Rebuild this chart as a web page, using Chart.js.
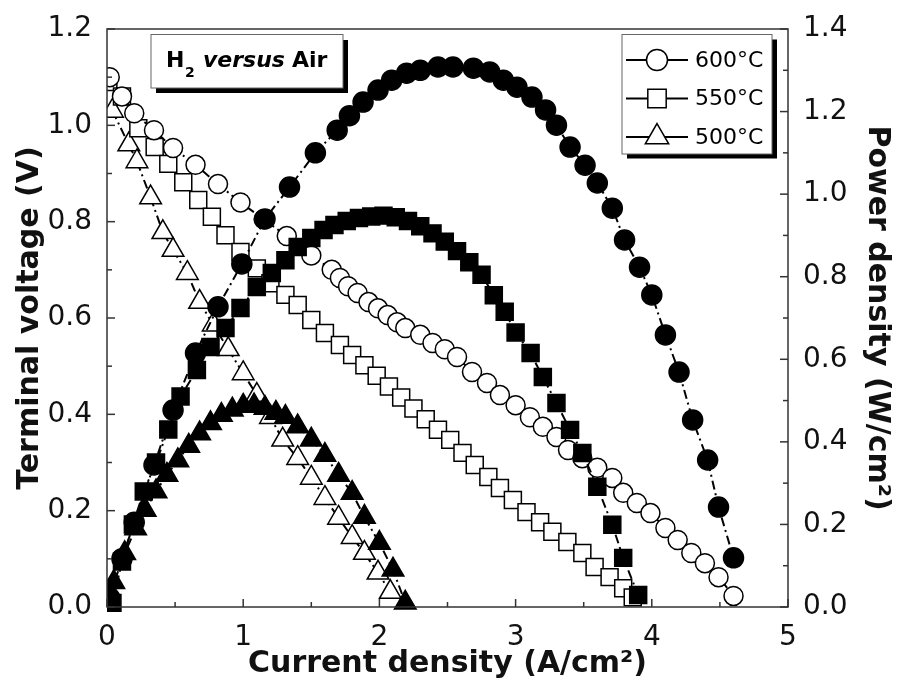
<!DOCTYPE html>
<html>
<head>
<meta charset="utf-8">
<style>
html,body{margin:0;padding:0;background:#fff;}
#wrap{width:904px;height:686px;position:relative;}
</style>
<script src="https://cdn.jsdelivr.net/npm/chart.js@4.4.0/dist/chart.umd.min.js"></script>
</head>
<body>
<div id="wrap"><canvas id="c" width="904" height="686"></canvas></div>
<script>
// ---------- data ----------
const xTicks = [0, 1, 2, 3, 4, 5];
const xMinorTicks = [0.5, 1.5, 2.5, 3.5, 4.5];
const vTicks = [0.0, 0.2, 0.4, 0.6, 0.8, 1.0, 1.2];
const vMinorTicks = [0.1, 0.3, 0.5, 0.7, 0.9, 1.1];
const pTicks = [0.0, 0.2, 0.4, 0.6, 0.8, 1.0, 1.2, 1.4];
const pMinorTicks = [0.1, 0.3, 0.5, 0.7, 0.9, 1.1, 1.3];

const seriesLabels = ['600°C', '550°C', '500°C'];

// 600 °C terminal voltage (open circles)
const j600V = [0.02,0.11,0.20,0.345,0.485,0.65,0.815,0.98,1.15,1.32,1.50,1.65,1.71,1.77,1.84,1.92,1.99,2.06,2.13,2.19,2.30,2.39,2.48,2.57,2.68,2.79,2.885,3.00,3.105,3.20,3.30,3.385,3.49,3.60,3.71,3.79,3.89,3.99,4.10,4.19,4.29,4.39,4.49,4.60];
const v600  = [1.10,1.06,1.025,0.99,0.953,0.918,0.878,0.84,0.805,0.77,0.73,0.70,0.683,0.666,0.652,0.633,0.62,0.606,0.591,0.579,0.565,0.548,0.535,0.519,0.488,0.465,0.44,0.419,0.394,0.374,0.353,0.326,0.309,0.289,0.268,0.237,0.216,0.195,0.164,0.139,0.112,0.091,0.062,0.023];
// 600 °C power density (filled circles)
const j600P = [0.02,0.11,0.20,0.345,0.485,0.65,0.815,0.99,1.16,1.34,1.53,1.69,1.78,1.88,1.99,2.09,2.20,2.30,2.43,2.54,2.69,2.81,2.91,3.01,3.12,3.22,3.30,3.40,3.51,3.60,3.71,3.80,3.91,4.00,4.10,4.20,4.30,4.41,4.49,4.60];
const p600  = [0.022,0.117,0.205,0.344,0.477,0.615,0.727,0.831,0.94,1.017,1.10,1.155,1.19,1.223,1.252,1.276,1.293,1.30,1.308,1.308,1.305,1.296,1.276,1.259,1.235,1.204,1.167,1.114,1.07,1.027,0.966,0.889,0.823,0.756,0.659,0.569,0.453,0.356,0.242,0.119];

// 550 °C terminal voltage (open squares)
const j550V = [0.01,0.11,0.23,0.35,0.45,0.56,0.67,0.77,0.87,0.98,1.10,1.20,1.31,1.40,1.50,1.60,1.71,1.80,1.89,1.98,2.07,2.16,2.25,2.34,2.43,2.52,2.61,2.70,2.80,2.885,2.98,3.08,3.18,3.27,3.38,3.49,3.58,3.69,3.79,3.86];
const v550  = [1.09,1.06,0.994,0.955,0.92,0.882,0.845,0.81,0.772,0.737,0.703,0.672,0.648,0.627,0.596,0.569,0.544,0.523,0.502,0.48,0.458,0.435,0.412,0.39,0.368,0.347,0.32,0.295,0.27,0.247,0.222,0.197,0.176,0.156,0.135,0.112,0.083,0.062,0.039,0.02];
// 550 °C power density (filled squares)
const j550P = [0.04,0.11,0.19,0.27,0.36,0.45,0.54,0.66,0.76,0.87,0.98,1.10,1.21,1.31,1.40,1.50,1.59,1.67,1.76,1.85,1.94,2.03,2.12,2.21,2.30,2.39,2.48,2.57,2.66,2.75,2.84,2.92,3.00,3.11,3.20,3.30,3.40,3.49,3.60,3.71,3.79,3.90];
const p550  = [0.01,0.11,0.20,0.28,0.35,0.43,0.51,0.574,0.63,0.676,0.724,0.775,0.809,0.84,0.872,0.894,0.913,0.925,0.935,0.942,0.946,0.948,0.944,0.935,0.922,0.905,0.885,0.862,0.835,0.805,0.755,0.715,0.665,0.615,0.557,0.494,0.429,0.373,0.291,0.199,0.119,0.029];

// 500 °C terminal voltage (open triangles)
const j500V = [0.04,0.16,0.22,0.32,0.41,0.485,0.59,0.68,0.78,0.89,1.00,1.10,1.20,1.29,1.40,1.50,1.60,1.70,1.80,1.89,1.99,2.08];
const v500  = [1.03,0.96,0.925,0.85,0.778,0.741,0.693,0.633,0.586,0.535,0.485,0.44,0.394,0.347,0.309,0.268,0.226,0.185,0.145,0.112,0.071,0.031];
// 500 °C power density (filled triangles)
const j500P = [0.05,0.13,0.21,0.28,0.36,0.44,0.52,0.60,0.68,0.76,0.84,0.92,1.00,1.08,1.16,1.24,1.31,1.40,1.50,1.60,1.70,1.80,1.89,2.00,2.10,2.19];
const p500  = [0.06,0.13,0.19,0.235,0.28,0.32,0.355,0.39,0.42,0.445,0.465,0.478,0.487,0.488,0.482,0.47,0.46,0.437,0.405,0.368,0.32,0.276,0.218,0.155,0.09,0.01];

// ---------- helpers ----------
const FONT = "'DejaVu Sans', 'Liberation Sans', sans-serif";
const pts = (xs, ys) => xs.map((x, i) => ({x: x, y: ys[i]}));
const DASH = [9, 4, 2, 4];

function ds(label, xs, ys, axis, style, radius, filled, order) {
  return {
    label: label,
    data: pts(xs, ys),
    yAxisID: axis,
    showLine: true,
    borderColor: '#000',
    borderWidth: 2,
    borderDash: DASH,
    pointStyle: style,
    pointRadius: radius,
    pointBorderWidth: 1.5,
    pointBorderColor: '#000',
    pointBackgroundColor: filled ? '#000' : '#fff',
    order: order,
    clip: {left: 0, top: 20, right: 20, bottom: 12}
  };
}

const markerInfo = [
  {style: 'circle', r: 9.5},
  {style: 'rect', r: 12},
  {style: 'triangle', r: 12.5}
];

// ---------- decorations plugin: frame, inward ticks, legend, note box ----------
const decorations = {
  id: 'decorations',
  afterDatasetsDraw(chart) {
    const {ctx, chartArea: a, scales} = chart;
    ctx.save();
    ctx.strokeStyle = '#333';
    ctx.lineWidth = 1.5;
    ctx.setLineDash([]);
    ctx.strokeRect(a.left, a.top, a.right - a.left, a.bottom - a.top);
    const line = (x1, y1, x2, y2) => { ctx.beginPath(); ctx.moveTo(x1, y1); ctx.lineTo(x2, y2); ctx.stroke(); };
    xTicks.forEach(v => { const p = scales.x.getPixelForValue(v); line(p, a.bottom, p, a.bottom - 8); });
    xMinorTicks.forEach(v => { const p = scales.x.getPixelForValue(v); line(p, a.bottom, p, a.bottom - 5); });
    vTicks.forEach(v => { const p = scales.y.getPixelForValue(v); line(a.left, p, a.left + 8, p); });
    vMinorTicks.forEach(v => { const p = scales.y.getPixelForValue(v); line(a.left, p, a.left + 5, p); });
    pTicks.forEach(v => { const p = scales.y2.getPixelForValue(v); line(a.right, p, a.right - 8, p); });
    pMinorTicks.forEach(v => { const p = scales.y2.getPixelForValue(v); line(a.right, p, a.right - 5, p); });
    ctx.restore();
  },
  afterDraw(chart) {
    const ctx = chart.ctx;
    ctx.save();
    ctx.setLineDash([]);

    // note box "H2 versus Air"
    ctx.fillStyle = '#000';
    ctx.fillRect(156, 40, 192, 53);
    ctx.fillStyle = '#fff';
    ctx.fillRect(151, 34.5, 192, 53.5);
    ctx.strokeStyle = '#666';
    ctx.lineWidth = 1;
    ctx.strokeRect(151, 34.5, 192, 53.5);
    ctx.fillStyle = '#000';
    ctx.textBaseline = 'alphabetic';
    ctx.textAlign = 'left';
    ctx.font = 'bold 22px ' + FONT;
    ctx.fillText('H', 166, 67);
    ctx.font = 'bold 14px ' + FONT;
    ctx.fillText('2', 185, 77);
    ctx.font = 'italic bold 22px ' + FONT;
    ctx.fillText('versus', 203, 67);
    ctx.font = 'bold 22px ' + FONT;
    ctx.fillText('Air', 292, 67);

    // legend
    ctx.fillStyle = '#000';
    ctx.fillRect(627, 39.5, 150, 119);
    ctx.fillStyle = '#fff';
    ctx.fillRect(622, 34.5, 150, 119.5);
    ctx.strokeStyle = '#666';
    ctx.lineWidth = 1;
    ctx.strokeRect(622, 34.5, 150, 119.5);
    const rows = [60, 98.5, 137];
    seriesLabels.forEach((lab, i) => {
      const y = rows[i];
      ctx.strokeStyle = '#000';
      ctx.lineWidth = 2;
      ctx.beginPath(); ctx.moveTo(626, y); ctx.lineTo(688, y); ctx.stroke();
      ctx.fillStyle = '#fff';
      ctx.lineWidth = 1.5;
      const m = markerInfo[i];
      Chart.helpers.drawPoint(ctx, {pointStyle: m.style, radius: m.r + 1, borderWidth: 1.5, rotation: 0}, 657, y);
      ctx.fillStyle = '#000';
      ctx.font = '22px ' + FONT;
      ctx.textBaseline = 'middle';
      ctx.fillText(lab, 695, y + 1);
    });
    ctx.restore();
  }
};

// ---------- chart ----------
const tickFont = {family: FONT, size: 28};
const titleFont = {family: FONT, size: 30, weight: 'bold'};

new Chart(document.getElementById('c'), {
  type: 'scatter',
  data: {
    datasets: [
      ds('600°C P', j600P, p600, 'y2', 'circle', 10, true, 0),
      ds('550°C P', j550P, p550, 'y2', 'rect', 12, true, 0),
      ds('500°C P', j500P, p500, 'y2', 'triangle', 12.5, true, 0),
      ds('600°C', j600V, v600, 'y', 'circle', 9.5, false, 1),
      ds('550°C', j550V, v550, 'y', 'rect', 12, false, 1),
      ds('500°C', j500V, v500, 'y', 'triangle', 12.5, false, 1)
    ]
  },
  options: {
    responsive: false,
    animation: false,
    events: [],
    layout: {padding: {top: 29, left: 0, right: 0, bottom: 0}},
    plugins: {legend: {display: false}, tooltip: {enabled: false}},
    scales: {
      x: {
        type: 'linear', position: 'bottom', min: 0, max: 5,
        afterBuildTicks: s => { s.ticks = xTicks.map(v => ({value: v})); },
        afterFit: s => { s.height = 79; },
        grid: {display: false}, border: {display: false},
        ticks: {font: tickFont, color: '#111', padding: 6, maxRotation: 0, callback: v => String(v)},
        title: {display: true, text: 'Current density (A/cm²)', font: titleFont, color: '#111', padding: {top: 0, bottom: 4}}
      },
      y: {
        type: 'linear', position: 'left', min: 0, max: 1.2,
        afterBuildTicks: s => { s.ticks = vTicks.map(v => ({value: v})); },
        afterFit: s => { s.width = 107; },
        grid: {display: false}, border: {display: false},
        ticks: {font: tickFont, color: '#111', padding: 7, callback: v => v.toFixed(1)},
        title: {display: true, text: 'Terminal voltage (V)', font: titleFont, color: '#111', padding: {top: 12, bottom: 0}}
      },
      y2: {
        type: 'linear', position: 'right', min: 0, max: 1.4,
        afterBuildTicks: s => { s.ticks = pTicks.map(v => ({value: v})); },
        afterFit: s => { s.width = 116; },
        grid: {display: false}, border: {display: false},
        ticks: {font: tickFont, color: '#111', padding: 7, callback: v => v.toFixed(1)},
        title: {display: true, text: 'Power density (W/cm²)', font: titleFont, color: '#111', padding: {top: 9, bottom: 0}}
      }
    }
  },
  plugins: [decorations]
});
</script>
</body>
</html>
